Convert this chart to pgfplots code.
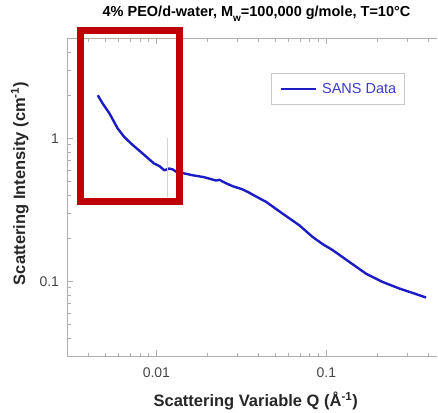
\documentclass[border=0pt]{standalone}
\usepackage{pgfplots}
\pgfplotsset{compat=1.18}
\usepackage{fontspec}
\setmainfont{Liberation Sans}
\definecolor{lineblue}{RGB}{28,28,196}
\definecolor{legblue}{RGB}{60,60,205}
\definecolor{boxred}{RGB}{192,0,0}
\definecolor{axgray}{RGB}{175,175,175}
\definecolor{ticklab}{RGB}{70,70,70}
\definecolor{leggray}{RGB}{200,200,200}
\begin{document}
\begin{tikzpicture}[x=1bp,y=1bp]
\begin{axis}[
  at={(67.5bp,56bp)}, anchor=south west,
  scale only axis, width=369.9bp, height=317.7bp,
  xmode=log, ymode=log,
  xmin=0.003, xmax=0.45, ymin=0.03, ymax=5,
  axis x line=box, axis y line=left,
  y axis line style={-},
  axis line style={axgray, line width=1bp},
  tick style={axgray, line width=0.8bp},
  tick align=inside,
  major tick length=6bp, minor tick length=3.5bp,
  xtick={0.01,0.1}, xticklabels={0.01,0.1},
  ytick={0.1,1}, yticklabels={0.1,1},
  minor xtick={0.003,0.004,0.005,0.006,0.007,0.008,0.009,0.02,0.03,0.04,0.05,0.06,0.07,0.08,0.09,0.2,0.3,0.4},
  minor ytick={0.04,0.05,0.06,0.07,0.08,0.09,0.2,0.3,0.4,0.5,0.6,0.7,0.8,0.9,2,3,4},
  /pgf/number format/assume math mode=true,
  tick label style={font=\fontsize{14bp}{16bp}\selectfont, text=ticklab},
  xticklabel style={yshift=-8bp},
  yticklabel style={xshift=-5bp},
  xlabel={Scattering Variable Q (Å\textsuperscript{-1})},
  ylabel={Scattering Intensity (cm\textsuperscript{-1})},
  label style={font=\bfseries\fontsize{16.5bp}{18bp}\selectfont, text=black!85},
  xlabel style={at={(axis description cs:0.5088,-0.1596)}, anchor=base},
  ylabel style={at={(axis description cs:-0.1147,0.543)}, anchor=base},
  title={4\% PEO/d-water, M\raisebox{-4.5bp}{\fontsize{10bp}{10bp}\selectfont w}=100,000 g/mole, T=10°C},
  title style={at={(axis description cs:0.511,1.049)}, anchor=base, font=\bfseries\fontsize{14.5bp}{16bp}\selectfont},
  legend style={at={(axis description cs:0.551,0.890)}, anchor=north west,
    draw=leggray, line width=0.8bp, inner xsep=8bp, inner ysep=9.5bp,
    nodes={inner sep=0pt, text=legblue, font=\fontsize{14.5bp}{16bp}\selectfont},
    column sep=5bp},
  legend image code/.code={\draw[#1] (0bp,0bp) -- (35bp,0bp);},
  clip=false,
]
\addplot[lineblue, line width=2.4bp, line join=round] coordinates {
(0.00452,2.00) (0.00483,1.75) (0.0053,1.49) (0.00592,1.17) (0.00648,1.02)
(0.0071,0.918) (0.0083,0.782) (0.0097,0.665) (0.0104,0.64) (0.01114,0.597)
(0.0119,0.614) (0.0125,0.605) (0.01306,0.584) (0.01635,0.551) (0.019,0.535)
(0.02245,0.506) (0.0235,0.512) (0.025,0.492) (0.0281,0.462) (0.032,0.44)
(0.0352,0.416) (0.037,0.402) (0.0442,0.359) (0.0553,0.297) (0.0694,0.246)
(0.083,0.204) (0.095,0.182) (0.109,0.165) (0.1365,0.1365) (0.171,0.113)
(0.214,0.0989) (0.269,0.0889) (0.33,0.082) (0.386,0.0769)
};
\addlegendentry{SANS Data}
\addplot[gray!35, line width=1.2bp, forget plot] coordinates {(0.01165,1.0) (0.01165,0.39)};
\addplot[boxred, line width=7.5bp, line join=miter, forget plot] coordinates {
(0.007,5.69) (0.01372,5.69) (0.01372,0.3625) (0.00359,0.3625) (0.00359,5.69) (0.0075,5.69)
};
\end{axis}
\pgfresetboundingbox
\useasboundingbox (0,0) rectangle (438,412);
\end{tikzpicture}
\end{document}
